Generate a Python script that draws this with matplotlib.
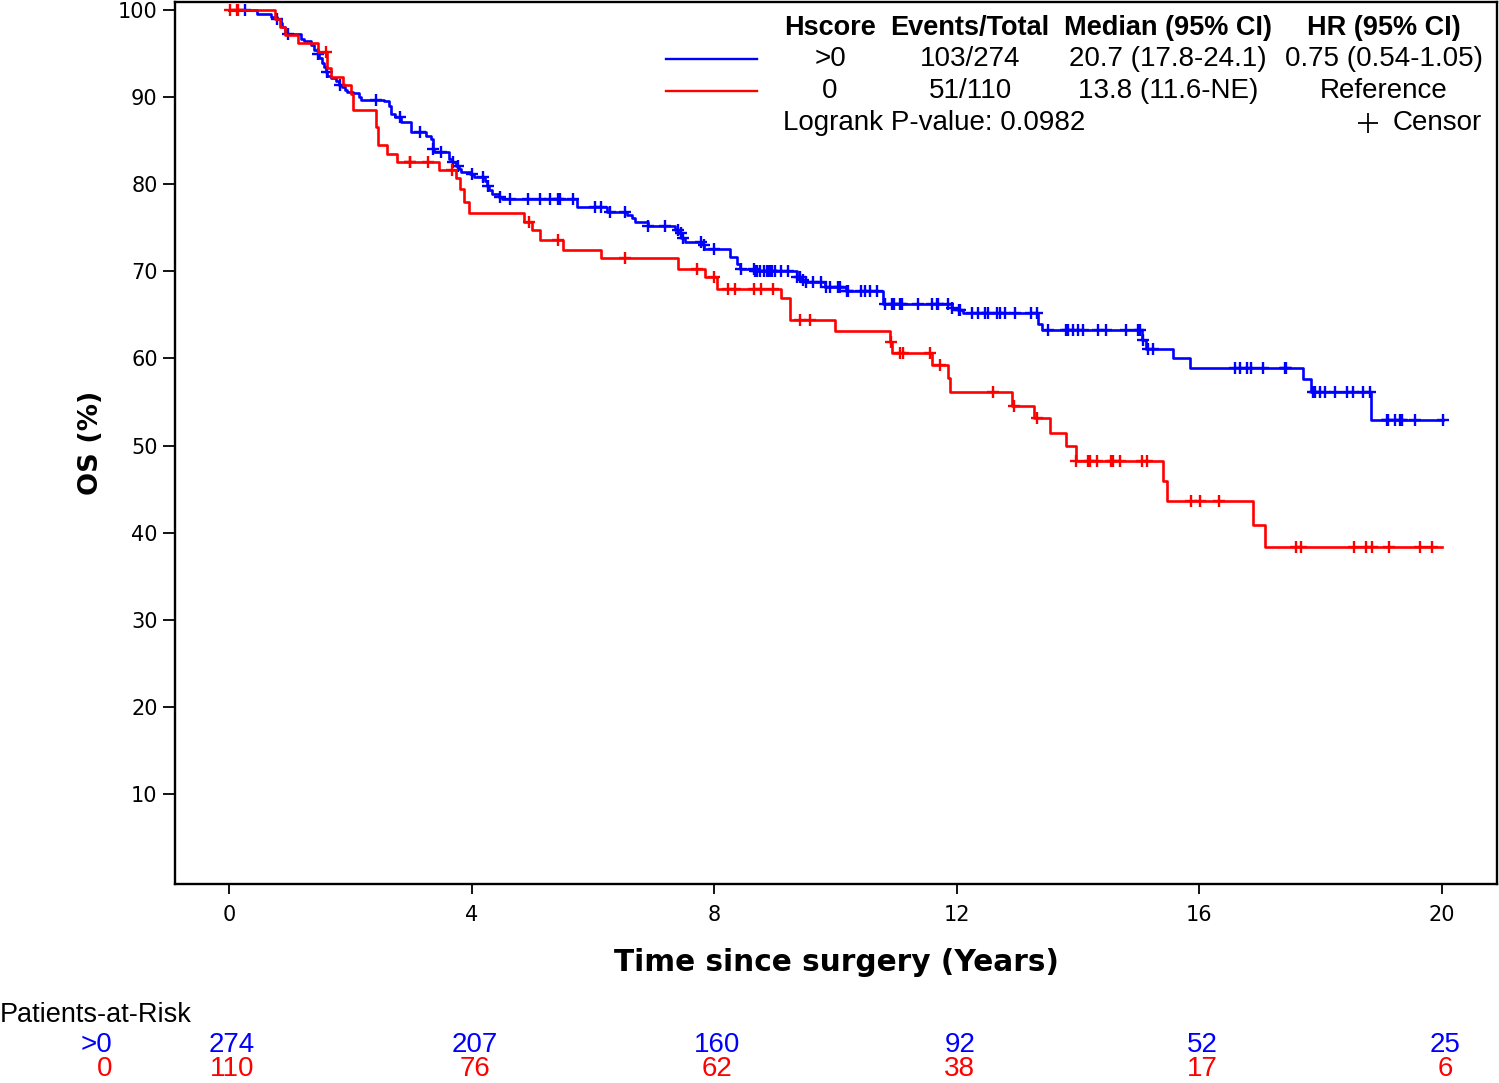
import numpy as np
import matplotlib.pyplot as plt
from matplotlib.lines import Line2D
from matplotlib.transforms import blended_transform_factory

# step points (time in years, survival %)
t_pos = [0, 0.46, 0.70, 0.79, 0.85, 0.88, 0.93, 0.96, 1.18, 1.24, 1.35, 1.40, 1.46, 1.48,
         1.54, 1.57, 1.60, 1.62, 1.68, 1.76, 1.81, 1.87, 1.92, 1.95, 2.04, 2.15, 2.18,
         2.56, 2.64, 2.67, 2.73, 2.84, 3.00, 3.25, 3.33, 3.36, 3.38, 3.63, 3.68, 3.74,
         3.79, 3.82, 3.98, 4.04, 4.23, 4.26, 4.29, 4.34, 4.45, 4.51, 5.74, 6.23, 6.56,
         6.64, 6.70, 6.91, 7.35, 7.41, 7.46, 7.52, 7.82, 7.84, 8.26, 8.37, 8.42, 8.67,
         9.36, 9.44, 9.50, 9.83, 10.18, 10.79, 11.92, 12.03, 12.11, 13.34, 13.40, 15.05,
         15.13, 15.57, 15.85, 17.71, 17.85, 18.84]
s_pos = [100, 99.5, 99.2, 99.0, 98.5, 98.1, 97.5, 97.3, 96.7, 96.4, 96.0, 95.4, 95.0, 94.5,
         93.9, 93.5, 92.9, 92.4, 92.2, 91.8, 91.4, 91.2, 90.8, 90.6, 90.5, 90.0, 89.7,
         89.5, 89.0, 88.1, 87.7, 87.2, 86.0, 85.5, 85.2, 84.1, 83.7, 82.9, 82.5, 82.1,
         81.8, 81.4, 81.2, 80.8, 80.4, 79.8, 79.3, 78.9, 78.5, 78.3, 77.4, 76.85, 76.5,
         76.1, 75.7, 75.2, 74.7, 74.4, 73.8, 73.4, 73.0, 72.6, 71.7, 70.9, 70.3, 70.0,
         69.4, 69.0, 68.8, 68.2, 67.7, 66.3, 65.8, 65.6, 65.2, 64.0, 63.3, 62.1,
         61.1, 60.0, 58.9, 57.6, 56.2, 52.9]
end_pos = 20.02

t_zero = [0, 0.76, 0.84, 0.93, 1.14, 1.47, 1.62, 1.68, 1.88, 2.02, 2.05, 2.42, 2.46, 2.60,
          2.77, 3.46, 3.74, 3.81, 3.87, 3.95, 4.86, 4.99, 5.13, 5.50, 6.14, 7.41, 7.85,
          8.04, 9.11, 9.25, 9.99, 10.90, 10.93, 11.59, 11.86, 11.89, 12.92, 13.27, 13.54,
          13.80, 13.96, 15.40, 15.46, 16.89, 17.09]
s_zero = [100, 99.0, 98.1, 97.1, 96.2, 95.2, 93.3, 92.3, 91.4, 90.4, 88.5, 86.6, 84.5, 83.5,
          82.6, 81.6, 80.7, 79.5, 78.0, 76.7, 75.7, 74.7, 73.6, 72.4, 71.5, 70.3, 69.4,
          68.0, 66.9, 64.4, 63.1, 61.9, 60.6, 59.3, 57.7, 56.2, 54.5, 53.2, 51.4,
          49.9, 48.2, 45.9, 43.6, 40.9, 38.3]
end_zero = 20.01

cens_pos = [0.26, 0.79, 0.98, 1.47, 1.61, 1.83, 2.43, 2.82, 3.15, 3.37, 3.5, 3.7, 3.78, 4.0,
            4.19, 4.27, 4.47, 4.63, 4.93, 5.13, 5.29, 5.43, 5.46, 5.68, 6.03, 6.14, 6.28,
            6.53, 6.91, 7.19, 7.4, 7.45, 7.49, 7.79, 7.83, 7.99, 8.45, 8.65, 8.68, 8.71,
            8.76, 8.82, 8.87, 8.9, 8.93, 8.95, 9.0, 9.11, 9.22, 9.37, 9.41, 9.47, 9.52,
            9.63, 9.77, 9.85, 9.91, 10.04, 10.07, 10.19, 10.21, 10.43, 10.49, 10.57, 10.68,
            10.82, 10.93, 10.96, 11.07, 11.1, 11.37, 11.59, 11.67, 11.7, 11.86, 11.93, 12.04,
            12.06, 12.25, 12.35, 12.46, 12.52, 12.66, 12.71, 12.79, 12.96, 13.23, 13.32,
            13.51, 13.81, 13.84, 13.92, 14.0, 14.09, 14.33, 14.47, 14.8, 14.99, 15.02,
            15.08, 15.16, 15.24, 16.59, 16.67, 16.78, 16.86, 17.05, 17.41, 17.43, 17.88,
            17.91, 17.99, 18.07, 18.24, 18.43, 18.54, 18.7, 18.81, 19.09, 19.11, 19.23,
            19.31, 19.34, 19.56, 20.02]
cens_zero = [0.02, 0.13, 0.15, 1.60, 2.98, 2.99, 3.29, 3.67, 4.95, 5.43, 6.53, 7.71, 7.99,
             8.23, 8.34, 8.65, 8.78, 8.97, 9.41, 9.58, 10.91, 11.06, 11.12, 11.56, 11.72,
             12.6, 12.94, 13.32, 13.97, 14.17, 14.2, 14.32, 14.55, 14.58, 14.7, 15.05,
             15.14, 15.86, 16.01, 16.32, 17.6, 17.67, 18.55, 18.75, 18.85, 19.13, 19.64,
             19.83]

risk_times = [0, 4, 8, 12, 16, 20]
risk_pos = [274, 207, 160, 92, 52, 25]
risk_zero = [110, 76, 62, 38, 17, 6]

BLUE = '#0000ff'
RED = '#ff0000'
W, H = 1499, 1083
LEG = 'Liberation Sans'


def step_value(times, surv, c):
    i = np.searchsorted(times, c, side='right') - 1
    return np.asarray(surv)[i]


def fx(px):
    return px / W


def fy(py):
    return 1 - py / H


def main():
    fig = plt.figure(figsize=(W / 100, H / 100), dpi=100)
    ax = fig.add_axes([fx(175), fy(884), fx(1497) - fx(175), fy(2) - fy(884)])

    for tt, ss, tend, cens, col in [(t_pos, s_pos, end_pos, cens_pos, BLUE),
                                     (t_zero, s_zero, end_zero, cens_zero, RED)]:
        ax.step(list(tt) + [tend], list(ss) + [ss[-1]], where='post', color=col, lw=1.9)
        cy = [step_value(tt, ss, c) for c in cens]
        ax.plot(cens, cy, ls='none', marker='+', ms=8, mew=1.7, color=col)

    ax.set_xlim(-0.89, 20.91)
    ax.set_ylim(-0.33, 100.92)
    ax.set_xticks(risk_times)
    ax.set_yticks(range(10, 101, 10))
    ax.tick_params(axis='x', direction='out', length=7, width=1.3, pad=8, labelsize=15)
    ax.tick_params(axis='y', direction='out', length=8.5, width=1.3, pad=4, labelsize=15)
    for sp in ax.spines.values():
        sp.set_linewidth(1.7)

    ax.set_xlabel('Time since surgery (Years)', fontsize=21.3, fontweight='bold', labelpad=17)
    ax.set_ylabel('OS (%)', fontsize=19.5, fontweight='bold', labelpad=10)

    # inset legend table
    cols = [830, 970, 1168, 1384]
    header = ['Hscore', 'Events/Total', 'Median (95% CI)', 'HR (95% CI)']
    row1 = ['>0', '103/274', '20.7 (17.8-24.1)', '0.75 (0.54-1.05)']
    row2 = ['0', '51/110', '13.8 (11.6-NE)', 'Reference']
    for x, h, a, b in zip(cols, header, row1, row2):
        fig.text(fx(x), fy(28), h, ha='center', va='center', fontsize=19.5,
                 fontweight='bold', family=LEG)
        fig.text(fx(x), fy(59), a, ha='center', va='center', fontsize=20, family=LEG)
        fig.text(fx(x), fy(91), b, ha='center', va='center', fontsize=20, family=LEG)
    fig.text(fx(783), fy(123), 'Logrank P-value: 0.0982', ha='left', va='center',
             fontsize=20, family=LEG)
    fig.text(fx(1482), fy(123), 'Censor', ha='right', va='center', fontsize=20, family=LEG)
    fig.add_artist(Line2D([fx(1368)], [fy(123)], marker='+', ms=14, mew=1.3, color='black'))
    fig.add_artist(Line2D([fx(666), fx(757)], [fy(59), fy(59)], color=BLUE, lw=1.7))
    fig.add_artist(Line2D([fx(666), fx(757)], [fy(91), fy(91)], color=RED, lw=1.7))

    # patients at risk
    fig.text(0, fy(1015), 'Patients-at-Risk', ha='left', va='center', fontsize=19.5, family=LEG)
    fig.text(fx(112), fy(1045), '>0', ha='right', va='center', fontsize=20, family=LEG, color=BLUE)
    fig.text(fx(112), fy(1069), '0', ha='right', va='center', fontsize=20, family=LEG, color=RED)
    tr = blended_transform_factory(ax.transData, fig.transFigure)
    for t, a, b in zip(risk_times, risk_pos, risk_zero):
        ax.text(t + 0.05, fy(1045), str(a), transform=tr, ha='center', va='center',
                fontsize=20, family=LEG, color=BLUE, clip_on=False)
        ax.text(t + 0.05, fy(1069), str(b), transform=tr, ha='center', va='center',
                fontsize=20, family=LEG, color=RED, clip_on=False)

    fig.savefig('out.png', dpi=100)


if __name__ == "__main__":
    main()
